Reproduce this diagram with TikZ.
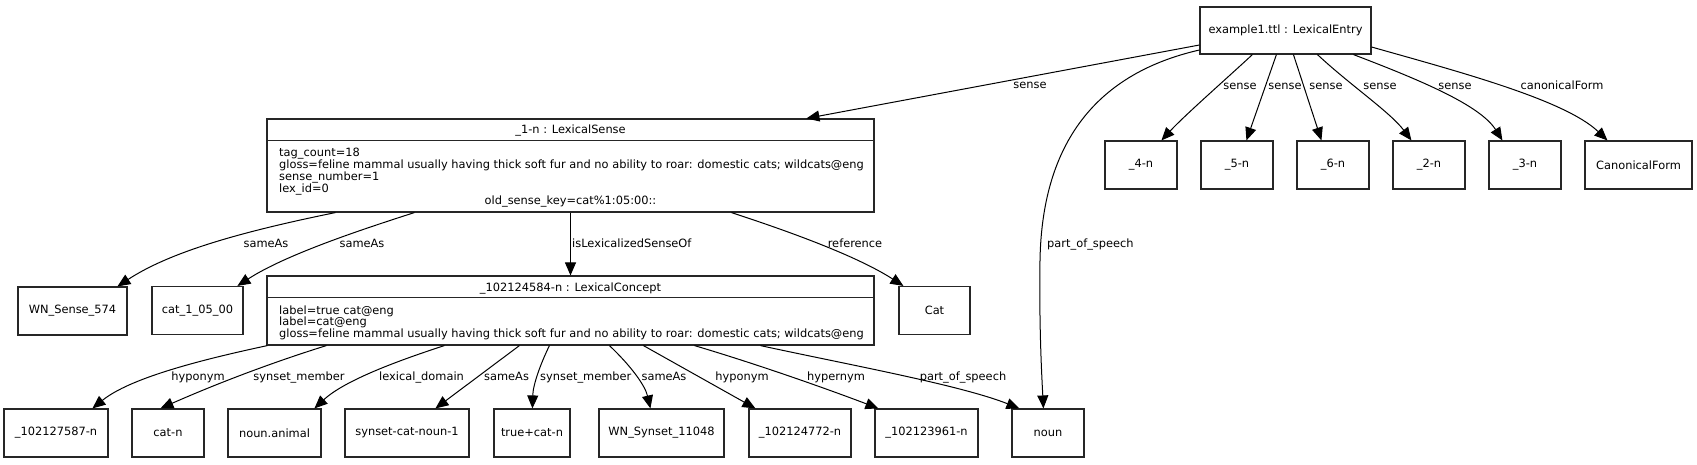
\documentclass[tikz,border=0pt]{standalone}
\usepackage{fontspec}
\setmainfont{DejaVu Sans}
\usetikzlibrary{arrows.meta}
\newcommand\gvfont{\fontsize{11.4}{12}\selectfont}
\begin{document}
\begin{tikzpicture}[x=1pt,y=-1pt,
  box/.style={draw=black!85, line width=1.15pt, inner sep=0pt, font=\gvfont, minimum height=48pt},
  rec/.style={draw=black!85, line width=1.15pt, inner sep=0pt, minimum width=607pt},
  divider/.style={draw=black!85, line width=1.15pt},
  edge/.style={draw=black, line width=1pt, -{Triangle[length=13pt,width=11pt]}},
  lbl/.style={font=\gvfont, inner sep=0pt}]
\fill[white] (0,0) rectangle (1697,464);
\useasboundingbox (0,0) rectangle (1697,464);

% ---------- nodes ----------
\node[box, minimum width=171pt, minimum height=47pt] (entry) at (1285.5,30.5) {example1.ttl : LexicalEntry};
\node[box, minimum width=72pt] (n4) at (1141,165) {\_4-n};
\node[box, minimum width=72pt] (n5) at (1237,165) {\_5-n};
\node[box, minimum width=72pt] (n6) at (1333,165) {\_6-n};
\node[box, minimum width=72pt] (n2) at (1429,165) {\_2-n};
\node[box, minimum width=72pt] (n3) at (1525,165) {\_3-n};
\node[box, minimum width=107pt] (cf) at (1638.5,165) {CanonicalForm};

% LexicalSense record
\node[rec, minimum height=93pt] (ls) at (570.5,165.5) {};
\draw[divider] ([yshift=-22pt]ls.north west) -- ([yshift=-22pt]ls.north east);
\node[lbl, anchor=base] (lshead) at (570.5,133.5) {\_1-n : LexicalSense};
\node[lbl, anchor=base west] (ls1) at (279,156) {tag\_count=18};
\node[lbl, anchor=base west] (ls2) at (279,168) {gloss=feline mammal usually having thick soft fur and no ability to roar: domestic cats; wildcats@eng};
\node[lbl, anchor=base west] (ls3) at (279,180) {sense\_number=1};
\node[lbl, anchor=base west] (ls4) at (279,192) {lex\_id=0};
\node[lbl, anchor=base] (ls5) at (570.5,204.5) {old\_sense\_key=cat\%1:05:00::};

\node[box, minimum width=109pt] (wns) at (72.5,311) {WN\_Sense\_574};
\node[box, minimum width=91pt] (cat105) at (197.5,310.5) {cat\_1\_05\_00};
\node[box, minimum width=71pt] (cat) at (934.5,310.5) {Cat};

% LexicalConcept record
\node[rec, minimum height=69pt] (lc) at (570.5,310.5) {};
\draw[divider] ([yshift=-22pt]lc.north west) -- ([yshift=-22pt]lc.north east);
\node[lbl, anchor=base] (lchead) at (570.5,291) {\_102124584-n : LexicalConcept};
\node[lbl, anchor=base west] (lc1) at (279,314) {label=true cat@eng};
\node[lbl, anchor=base west] (lc2) at (279,325.8) {label=cat@eng};
\node[lbl, anchor=base west] (lc3) at (279,337.6) {gloss=feline mammal usually having thick soft fur and no ability to roar: domestic cats; wildcats@eng};

% bottom row
\node[box, minimum width=104pt] (b1) at (56,433) {\_102127587-n};
\node[box, minimum width=72pt] (catn) at (168,433) {cat-n};
\node[box, minimum width=93pt] (nanimal) at (274.5,433) {noun.animal};
\node[box, minimum width=124pt] (syncat) at (407,433) {synset-cat-noun-1};
\node[box, minimum width=76pt] (truecat) at (532,433) {true+cat-n};
\node[box, minimum width=125pt] (wnsyn) at (661.5,433) {WN\_Synset\_11048};
\node[box, minimum width=102pt] (b7) at (800,433) {\_102124772-n};
\node[box, minimum width=103pt] (b8) at (926.5,433) {\_102123961-n};
\node[box, minimum width=72pt] (noun) at (1048,433) {noun};

% ---------- edges ----------
\draw[edge] ([yshift=-14.5pt]entry.west) -- ([xshift=540pt]ls.north west);
\draw[edge] ([yshift=-19.5pt]entry.west) .. controls (1090,75) and (1042,150) .. (1040,260)
            .. controls (1039,330) and (1042,380) .. ([xshift=32pt]noun.north west);
\draw[edge] ([xshift=53pt]entry.south west) .. controls (1225,80) and (1185,115) .. ([xshift=57pt]n4.north west);
\draw[edge] ([xshift=77pt]entry.south west) -- ([xshift=46pt]n5.north west);
\draw[edge] ([xshift=94pt]entry.south west) -- ([xshift=25pt]n6.north west);
\draw[edge] ([xshift=118pt]entry.south west) .. controls (1350,85) and (1390,112) .. ([xshift=19pt]n2.north west);
\draw[edge] ([xshift=154pt]entry.south west) .. controls (1420,80) and (1480,105) .. ([xshift=14pt]n3.north west);
\draw[edge] ([yshift=-16.5pt]entry.east) .. controls (1460,72) and (1565,100) .. ([xshift=23pt]cf.north west);

\draw[edge] ([xshift=69pt]ls.south west) .. controls (240,232) and (170,252) .. ([xshift=100pt]wns.north west);
\draw[edge] ([xshift=148pt]ls.south west) .. controls (360,230) and (285,255) .. ([xshift=86pt]cat105.north west);
\draw[edge] (ls.south) -- (lc.north);
\draw[edge] ([xshift=465pt]ls.south west) .. controls (800,235) and (860,258) .. ([xshift=5pt]cat.north west);

\draw[edge] ([xshift=1pt]lc.south west) .. controls (200,360) and (130,378) .. ([xshift=89pt]b1.north west);
\draw[edge] ([xshift=60pt]lc.south west) .. controls (280,360) and (225,380) .. ([xshift=29pt]catn.north west);
\draw[edge] ([xshift=178pt]lc.south west) .. controls (400,360) and (345,380) .. ([xshift=87pt]nanimal.north west);
\draw[edge] ([xshift=253pt]lc.south west) -- ([xshift=91pt]syncat.north west);
\draw[edge] ([xshift=283pt]lc.south west) .. controls (540,365) and (533,385) .. ([xshift=39pt]truecat.north west);
\draw[edge] ([xshift=343pt]lc.south west) .. controls (630,365) and (645,385) .. ([xshift=52pt]wnsyn.north west);
\draw[edge] ([xshift=377pt]lc.south west) -- ([xshift=7pt]b7.north west);
\draw[edge] ([xshift=428pt]lc.south west) .. controls (760,365) and (830,390) .. ([xshift=4pt]b8.north west);
\draw[edge] ([xshift=494pt]lc.south west) .. controls (850,365) and (960,385) .. ([xshift=8pt]noun.north west);

% ---------- edge labels ----------
\node[lbl, anchor=base] (t1) at (1030,88) {sense};
\node[lbl, anchor=base] (t2) at (1240,89) {sense};
\node[lbl, anchor=base] (t3) at (1285,89) {sense};
\node[lbl, anchor=base] (t4) at (1326,89) {sense};
\node[lbl, anchor=base] (t5) at (1380,89) {sense};
\node[lbl, anchor=base] (t6) at (1455,89) {sense};
\node[lbl, anchor=base] (t7) at (1562,89) {canonicalForm};
\node[lbl, anchor=base] (m1) at (266,247) {sameAs};
\node[lbl, anchor=base] (m2) at (362,247) {sameAs};
\node[lbl, anchor=base west] (m3) at (572,247) {isLexicalizedSenseOf};
\node[lbl, anchor=base] (m4) at (855,247) {reference};
\node[lbl, anchor=base west] (m5) at (1047,247) {part\_of\_speech};
\node[lbl, anchor=base] (u1) at (198,380) {hyponym};
\node[lbl, anchor=base] (u2) at (299,380) {synset\_member};
\node[lbl, anchor=base west] (u3) at (379,380) {lexical\_domain};
\node[lbl, anchor=base west] (u4) at (484,380) {sameAs};
\node[lbl, anchor=base west] (u5) at (540,380) {synset\_member};
\node[lbl, anchor=base] (u6) at (664,380) {sameAs};
\node[lbl, anchor=base] (u7) at (742,380) {hyponym};
\node[lbl, anchor=base] (u8) at (836,380) {hypernym};
\node[lbl, anchor=base] (u9) at (963,380) {part\_of\_speech};
\end{tikzpicture}
\end{document}
